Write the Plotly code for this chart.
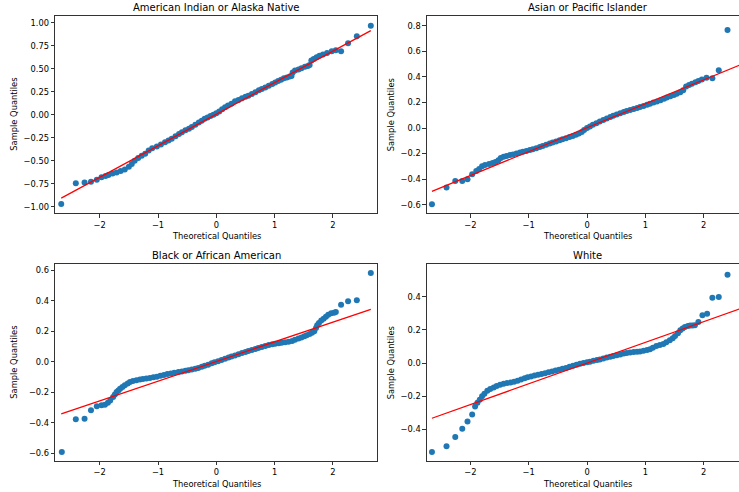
import plotly.graph_objects as go

W, H = 739, 492

titles = ["American Indian or Alaska Native", "Asian or Pacific Islander",
          "Black or African American", "White"]

# ---- American Indian or Alaska Native ----
aian_theoretical = [-2.66, -2.41, -2.26, -2.15, -2.05, -1.97, -1.90, -1.85, -1.78, -1.71,
                    -1.64, -1.57, -1.50, -1.45, -1.40, -1.34, -1.28, -1.22, -1.16, -1.10,
                    -1.02, -0.95, -0.88, -0.82, -0.765, -0.70, -0.64, -0.59, -0.53, -0.47,
                    -0.42, -0.36, -0.30, -0.25, -0.20, -0.15, -0.10, -0.05, 0.0, 0.05,
                    0.10, 0.15, 0.20, 0.26, 0.32, 0.38, 0.44, 0.50, 0.55, 0.61,
                    0.67, 0.73, 0.78, 0.84, 0.90, 0.96, 1.01, 1.06, 1.11, 1.16,
                    1.21, 1.26, 1.29, 1.31, 1.35, 1.41, 1.46, 1.52, 1.57, 1.60,
                    1.63, 1.67, 1.72, 1.77, 1.83, 1.90, 1.98, 2.05, 2.14, 2.26,
                    2.41, 2.65]
aian_sample = [-0.97, -0.745, -0.738, -0.728, -0.706, -0.68, -0.665, -0.655, -0.64, -0.628,
               -0.612, -0.595, -0.565, -0.536, -0.50, -0.47, -0.445, -0.425, -0.39, -0.365,
               -0.345, -0.325, -0.30, -0.28, -0.262, -0.235, -0.21, -0.19, -0.17, -0.152,
               -0.135, -0.11, -0.085, -0.065, -0.045, -0.03, -0.015, 0.0, 0.015, 0.035,
               0.06, 0.08, 0.10, 0.12, 0.145, 0.16, 0.18, 0.195, 0.207, 0.225,
               0.245, 0.265, 0.28, 0.295, 0.315, 0.335, 0.35, 0.365, 0.38, 0.395,
               0.405, 0.415, 0.42, 0.46, 0.48, 0.49, 0.505, 0.52, 0.53, 0.54,
               0.59, 0.605, 0.625, 0.64, 0.655, 0.67, 0.69, 0.70, 0.69, 0.776,
               0.852, 0.967]

# ---- Asian or Pacific Islander ----
api_theoretical = [-2.66, -2.41, -2.26, -2.14, -2.05, -1.97, -1.90, -1.85, -1.80, -1.75,
                   -1.68, -1.62, -1.57, -1.52, -1.48, -1.43, -1.38, -1.32, -1.27, -1.21,
                   -1.15, -1.10, -1.04, -0.98, -0.93, -0.87, -0.81, -0.76, -0.70, -0.64,
                   -0.59, -0.53, -0.47, -0.42, -0.36, -0.30, -0.245, -0.19, -0.14, -0.09,
                   -0.05, 0.0, 0.05, 0.10, 0.16, 0.22, 0.28, 0.34, 0.40, 0.45,
                   0.51, 0.57, 0.63, 0.68, 0.74, 0.80, 0.86, 0.91, 0.97, 1.03,
                   1.08, 1.14, 1.20, 1.26, 1.32, 1.37, 1.43, 1.49, 1.54, 1.60,
                   1.65, 1.70, 1.75, 1.80, 1.86, 1.91, 1.97, 2.05, 2.15, 2.26,
                   2.41, 2.65]
api_sample = [-0.597, -0.466, -0.414, -0.414, -0.40, -0.362, -0.336, -0.32, -0.30, -0.29,
              -0.282, -0.274, -0.265, -0.252, -0.235, -0.225, -0.218, -0.212, -0.207, -0.20,
              -0.192, -0.186, -0.18, -0.172, -0.166, -0.158, -0.148, -0.14, -0.13, -0.122,
              -0.114, -0.105, -0.096, -0.088, -0.08, -0.07, -0.062, -0.052, -0.042, -0.032,
              -0.015, 0.0, 0.012, 0.025, 0.038, 0.05, 0.062, 0.075, 0.086, 0.095,
              0.105, 0.115, 0.125, 0.133, 0.141, 0.149, 0.157, 0.164, 0.172, 0.182,
              0.19, 0.199, 0.208, 0.218, 0.228, 0.238, 0.248, 0.258, 0.268, 0.28,
              0.295, 0.325, 0.337, 0.347, 0.357, 0.367, 0.38, 0.394, 0.389, 0.451,
              0.766, 0.80]

# ---- Black or African American ----
black_theoretical = [-2.65, -2.41, -2.26, -2.15, -2.05, -1.97, -1.91, -1.86, -1.82, -1.77,
                     -1.74, -1.71, -1.68, -1.65, -1.61, -1.57, -1.52, -1.48, -1.43, -1.37,
                     -1.31, -1.26, -1.20, -1.14, -1.08, -1.02, -0.96, -0.90, -0.84, -0.78,
                     -0.72, -0.65, -0.59, -0.53, -0.48, -0.42, -0.36, -0.31, -0.25, -0.20,
                     -0.14, -0.08, -0.03, 0.03, 0.09, 0.15, 0.21, 0.26, 0.32, 0.38,
                     0.44, 0.50, 0.55, 0.61, 0.67, 0.72, 0.78, 0.84, 0.90, 0.96,
                     1.01, 1.07, 1.12, 1.18, 1.24, 1.30, 1.35, 1.41, 1.46, 1.51,
                     1.55, 1.60, 1.64, 1.68, 1.71, 1.73, 1.76, 1.80, 1.84, 1.88,
                     1.92, 1.97, 2.02, 2.05, 2.14, 2.26, 2.41, 2.65]
black_sample = [-0.592, -0.377, -0.373, -0.318, -0.292, -0.285, -0.281, -0.268, -0.253, -0.231,
                -0.215, -0.198, -0.188, -0.176, -0.165, -0.154, -0.142, -0.132, -0.126, -0.121,
                -0.116, -0.113, -0.11, -0.106, -0.102, -0.098, -0.092, -0.086, -0.08, -0.076,
                -0.072, -0.067, -0.063, -0.059, -0.055, -0.05, -0.045, -0.04, -0.033, -0.026,
                -0.019, -0.01, -0.003, 0.004, 0.012, 0.02, 0.028, 0.035, 0.042, 0.05,
                0.057, 0.064, 0.07, 0.077, 0.084, 0.091, 0.097, 0.104, 0.11, 0.115,
                0.119, 0.122, 0.125, 0.128, 0.131, 0.137, 0.144, 0.152, 0.16, 0.168,
                0.174, 0.182, 0.19, 0.20, 0.222, 0.24, 0.255, 0.27, 0.283, 0.296,
                0.309, 0.318, 0.322, 0.326, 0.374, 0.397, 0.403, 0.582]

# ---- White ----
white_theoretical = [-2.66, -2.41, -2.26, -2.14, -2.05, -1.97, -1.92, -1.88, -1.84, -1.80,
                     -1.76, -1.71, -1.66, -1.60, -1.55, -1.49, -1.43, -1.37, -1.31, -1.25,
                     -1.19, -1.13, -1.07, -1.02, -0.96, -0.90, -0.84, -0.78, -0.72, -0.66,
                     -0.60, -0.54, -0.48, -0.42, -0.36, -0.30, -0.24, -0.18, -0.12, -0.06,
                     0.0, 0.05, 0.11, 0.17, 0.22, 0.28, 0.34, 0.40, 0.45, 0.51,
                     0.57, 0.63, 0.68, 0.74, 0.80, 0.86, 0.91, 0.97, 1.03, 1.08,
                     1.13, 1.19, 1.25, 1.31, 1.36, 1.42, 1.47, 1.51, 1.56, 1.60,
                     1.64, 1.68, 1.73, 1.77, 1.81, 1.85, 1.91, 1.98, 2.06, 2.15,
                     2.26, 2.41, 2.65]
white_sample = [-0.537, -0.502, -0.446, -0.396, -0.352, -0.31, -0.262, -0.24, -0.221, -0.20,
                -0.185, -0.168, -0.157, -0.147, -0.138, -0.131, -0.125, -0.121, -0.118, -0.113,
                -0.107, -0.10, -0.092, -0.086, -0.081, -0.076, -0.071, -0.066, -0.061, -0.056,
                -0.051, -0.045, -0.04, -0.035, -0.03, -0.023, -0.016, -0.01, -0.005, 0.0,
                0.004, 0.008, 0.013, 0.018, 0.022, 0.028, 0.033, 0.038, 0.042, 0.047,
                0.052, 0.057, 0.06, 0.063, 0.066, 0.068, 0.07, 0.074, 0.078, 0.083,
                0.092, 0.103, 0.108, 0.115, 0.125, 0.137, 0.15, 0.163, 0.18, 0.197,
                0.208, 0.217, 0.224, 0.227, 0.227, 0.228, 0.247, 0.288, 0.297, 0.394,
                0.398, 0.533, 0.54]

# ---- fitted reference lines (end points) ----
fit_x = [-2.66, 2.65]
aian_fit = [-0.907, 0.914]
api_fit = [-0.495, 0.498]
black_fit = [-0.341, 0.344]
white_fit = [-0.333, 0.331]

x_ticks = [-2, -1, 0, 1, 2]
aian_yticks = [-1.0, -0.75, -0.5, -0.25, 0.0, 0.25, 0.5, 0.75, 1.0]
api_yticks = [-0.6, -0.4, -0.2, 0.0, 0.2, 0.4, 0.6, 0.8]
black_yticks = [-0.6, -0.4, -0.2, 0.0, 0.2, 0.4, 0.6]
white_yticks = [-0.4, -0.2, 0.0, 0.2, 0.4]

series = [
    (aian_theoretical, aian_sample, aian_fit, aian_yticks, ".2f"),
    (api_theoretical, api_sample, api_fit, api_yticks, ".1f"),
    (black_theoretical, black_sample, black_fit, black_yticks, ".1f"),
    (white_theoretical, white_sample, white_fit, white_yticks, ".1f"),
]

# panel geometry in pixels (left, right, top, bottom) and axis ranges
geom = [
    dict(x0=55, x1=377, y0=16, y1=213.3, xr=[-2.767, 2.756], yr=[-1.0717, 1.0728], right=True),
    dict(x0=426.7, x1=739, y0=16, y1=213.3, xr=[-2.75, 2.607], yr=[-0.667, 0.876], right=False),
    dict(x0=55, x1=377, y0=264.3, y1=461, xr=[-2.767, 2.756], yr=[-0.6505, 0.6393], right=True),
    dict(x0=426.7, x1=739, y0=264.3, y1=461, xr=[-2.75, 2.607], yr=[-0.591, 0.5955], right=False),
]

FONT = "DejaVu Sans"
BLUE = "#1f77b4"

def px(x):
    return x / W

def py(y):
    return 1 - y / H

fig = go.Figure()
layout = dict(
    width=W, height=H,
    margin=dict(l=0, r=0, t=0, b=0),
    paper_bgcolor="white", plot_bgcolor="white",
    showlegend=False,
    font=dict(family=FONT, size=8.3, color="black"),
    annotations=[],
)

for i, ((qx, sy, fit, yt, fmt), g) in enumerate(zip(series, geom)):
    n = i + 1
    xa = "x" if n == 1 else f"x{n}"
    ya = "y" if n == 1 else f"y{n}"
    fig.add_trace(go.Scatter(x=qx, y=sy, mode="markers", xaxis=xa, yaxis=ya,
                             marker=dict(color=BLUE, size=6, line=dict(width=0)),
                             cliponaxis=False, hoverinfo="skip"))
    fig.add_trace(go.Scatter(x=fit_x, y=fit, mode="lines", xaxis=xa, yaxis=ya,
                             line=dict(color="#ff0000", width=1.25), hoverinfo="skip"))
    common = dict(showgrid=False, zeroline=False, showline=True, linecolor="black",
                  linewidth=0.8, ticks="outside", ticklen=3.5, tickwidth=0.8,
                  tickcolor="black", tickfont=dict(family=FONT, size=8.3, color="black"))
    layout[f"xaxis{'' if n == 1 else n}"] = dict(
        domain=[px(g["x0"]), px(g["x1"])], range=g["xr"], anchor=ya,
        tickvals=x_ticks, mirror=True, **common)
    layout[f"yaxis{'' if n == 1 else n}"] = dict(
        domain=[py(g["y1"]), py(g["y0"])], range=g["yr"], anchor=xa,
        tickvals=yt, tickformat=fmt, mirror=g["right"], **common)
    cx = (g["x0"] + (g["x0"] + 322)) / 2
    # subplot title
    layout["annotations"].append(dict(
        text=titles[i], x=px(cx), y=py(g["y0"] - 8.8), xref="paper", yref="paper",
        showarrow=False, xanchor="center", yanchor="middle",
        font=dict(family=FONT, size=10, color="black")))
    # x axis title
    layout["annotations"].append(dict(
        text="Theoretical Quantiles", x=px(cx), y=py(g["y1"] + 22.5), xref="paper", yref="paper",
        showarrow=False, xanchor="center", yanchor="middle",
        font=dict(family=FONT, size=8.3, color="black")))
    # y axis title
    layout["annotations"].append(dict(
        text="Sample Quantiles", x=px(g["x0"] - 41 if g["right"] else g["x0"] - 36),
        y=py((g["y0"] + g["y1"]) / 2), xref="paper", yref="paper",
        showarrow=False, xanchor="center", yanchor="middle", textangle=-90,
        font=dict(family=FONT, size=8.3, color="black")))

fig.update_layout(**layout)
fig.write_html("out.html", config={"displayModeBar": False, "staticPlot": True},
               post_script="document.body.style.margin='0';document.body.style.overflow='hidden';")
